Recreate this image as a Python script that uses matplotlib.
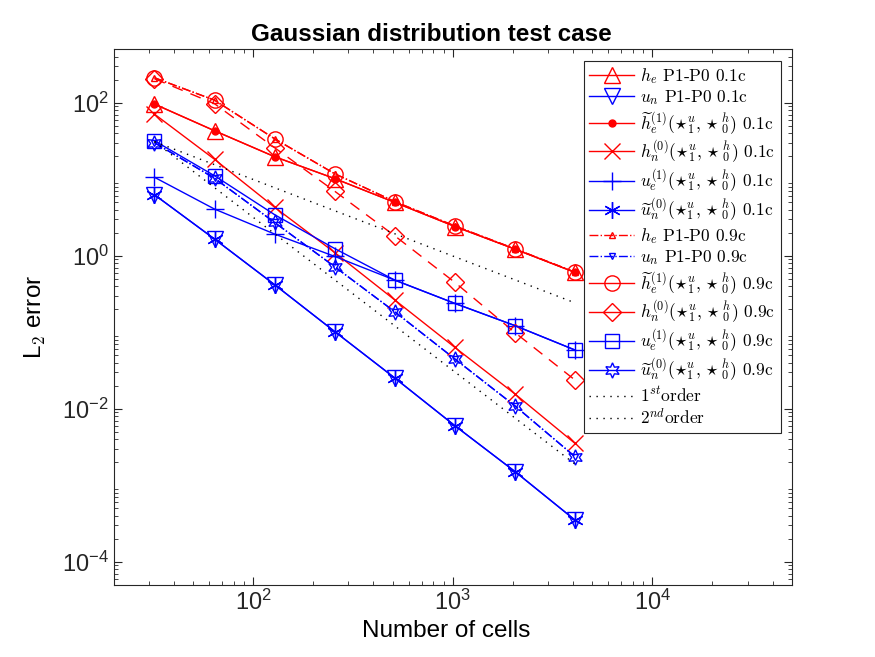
import matplotlib

matplotlib.use("Agg")
import matplotlib.pyplot as plt
import numpy as np

plt.rcParams["font.family"] = ["Liberation Sans", "DejaVu Sans"]
plt.rcParams["mathtext.fontset"] = "cm"

# number of cells
cells = [32, 64, 128, 256, 512, 1024, 2048, 4096]

# L2 errors, CFL 0.1
he_p1p0_01 = [96, 43, 19.7, 10.2, 4.98, 2.41, 1.22, 0.605]
un_p1p0_01 = [6.27, 1.65, 0.418, 0.102, 0.0252, 0.0060, 0.00151, 0.00035]
he_t1_01 = [96, 43, 19.7, 10.2, 4.98, 2.41, 1.22, 0.605]
hn0_01 = [71, 18.2, 4.3, 1.1, 0.264, 0.0633, 0.0156, 0.00352]
ue1_01 = [10.6, 4.07, 1.92, 0.98, 0.48, 0.238, 0.122, 0.0585]
un_t0_01 = [6.27, 1.65, 0.418, 0.102, 0.0252, 0.0060, 0.00151, 0.00035]

# L2 errors, CFL 0.9
he_p1p0_09 = [212, 108, 33.8, 11.8, 5.1, 2.45, 1.23, 0.61]
un_p1p0_09 = [30, 10.3, 2.72, 0.718, 0.185, 0.0447, 0.0109, 0.00236]
he_t1_09 = [212, 108, 33.8, 11.8, 5.1, 2.45, 1.23, 0.61]
hn0_09 = [206, 97, 25.8, 6.97, 1.82, 0.448, 0.099, 0.0237]
ue1_09 = [31.8, 11.1, 3.44, 1.24, 0.48, 0.238, 0.122, 0.0585]
un_t0_09 = [30, 10.3, 2.72, 0.718, 0.185, 0.0447, 0.0109, 0.00236]

# reference slopes (end points)
ref_cells = [32, 4096]
first_order = [31, 0.242]
second_order = [31, 0.00189]

star = r"(\star_1^u{,}\,\star_0^h)"
labels = [
    r"$h_e$ P1-P0 0.1c",
    r"$u_n$ P1-P0 0.1c",
    r"$\widetilde{h}_e^{(1)}" + star + r"$ 0.1c",
    r"$h_n^{(0)}" + star + r"$ 0.1c",
    r"$u_e^{(1)}" + star + r"$ 0.1c",
    r"$\widetilde{u}_n^{(0)}" + star + r"$ 0.1c",
    r"$h_e$ P1-P0 0.9c",
    r"$u_n$ P1-P0 0.9c",
    r"$\widetilde{h}_e^{(1)}" + star + r"$ 0.9c",
    r"$h_n^{(0)}" + star + r"$ 0.9c",
    r"$u_e^{(1)}" + star + r"$ 0.9c",
    r"$\widetilde{u}_n^{(0)}" + star + r"$ 0.9c",
    r"$1^{st}$order",
    r"$2^{nd}$order",
]
series = [he_p1p0_01, un_p1p0_01, he_t1_01, hn0_01, ue1_01, un_t0_01,
          he_p1p0_09, un_p1p0_09, he_t1_09, hn0_09, ue1_09, un_t0_09]

R, B = "#ff0000", "#0000ff"
# (color, linestyle, marker, markersize, filled)
styles = [
    (R, "-", "^", 11, False),
    (B, "-", "v", 11, False),
    (R, "-", "o", 5, True),
    (R, "-", "x", 11, False),
    (B, "-", "+", 13, False),
    (B, "-", (6, 2, 0), 12, False),
    (R, "-.", "^", 4, False),
    (B, "-.", "v", 4, False),
    (R, "-.", "o", 11, False),
    (R, (0, (8, 6)), "D", 9, False),
    (B, "-", "s", 10, False),
    (B, "-.", (6, 1, 0), 11, False),
]

fig = plt.figure(figsize=(8.75, 6.57), dpi=100)
ax = fig.add_axes([0.13, 0.11, 0.775, 0.815])

for vals, lab, (col, ls, mk, ms, filled) in zip(series, labels, styles):
    ax.loglog(cells, vals, color=col, ls=ls, lw=1.0, marker=mk, ms=ms,
              mec=col, mfc=col if filled else "none", mew=1.0, label=lab)
ax.loglog(ref_cells, first_order, color="k", ls=(0, (1, 4)), lw=1.0,
          label=labels[12])
ax.loglog(ref_cells, second_order, color="k", ls=(0, (1, 4)), lw=1.0,
          label=labels[13])

ax.set_xlim(20, 5e4)
ax.set_ylim(5e-5, 500)
ax.set_xticks([1e2, 1e3, 1e4])
ax.set_yticks([1e-4, 1e-2, 1e0, 1e2])
ax.tick_params(which="both", direction="in", top=True, right=True,
               colors="#262626", labelsize=17)
ax.tick_params(which="major", length=6)
ax.tick_params(which="minor", length=3)
for sp in ax.spines.values():
    sp.set_color("#262626")
    sp.set_linewidth(0.8)

ax.set_xlabel("Number of cells", fontsize=17.5, x=0.49)
ax.set_ylabel(r"L$_2$ error", fontsize=17.5, labelpad=10)
ax.set_title("Gaussian distribution test case", fontsize=17.5,
             fontweight="bold", x=0.468)

leg = ax.legend(loc="upper right", prop={"family": "cmr10", "size": 12.5},
                frameon=True, fancybox=False, edgecolor="#262626",
                framealpha=1.0, handlelength=2.6, handletextpad=0.35,
                labelspacing=0.15, borderpad=0.3, borderaxespad=0.65)
leg.get_frame().set_linewidth(0.8)
# the 0.9c variants show a plain line in the legend box
for i in (8, 9, 11):
    leg.get_lines()[i].set_linestyle("-")

fig.savefig("out.png", dpi=100)
